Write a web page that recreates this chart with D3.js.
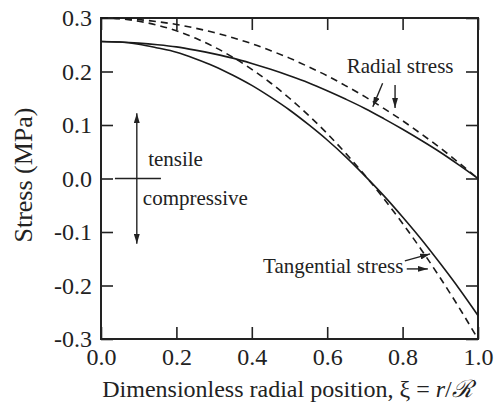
<!DOCTYPE html>
<html>
<head>
<meta charset="utf-8">
<script src="https://cdn.jsdelivr.net/npm/d3@7"></script>
<style>
  body { margin: 0; background: #fff; }
</style>
</head>
<body>
<div id="wrapper"></div>
<script>
// values, xi = r/R
const xi = [0, 0.05, 0.1, 0.15, 0.2, 0.25, 0.3, 0.35, 0.4, 0.45, 0.5,
    0.55, 0.6, 0.65, 0.7, 0.75, 0.8, 0.85, 0.9, 0.95, 1.0]
const radialSolid = [0.256, 0.255, 0.253, 0.250, 0.246, 0.240, 0.233, 0.225, 0.215, 0.204, 0.192,
    0.179, 0.164, 0.148, 0.131, 0.112, 0.092, 0.071, 0.049, 0.025, 0.000]
const radialDashed = [0.300, 0.299, 0.297, 0.293, 0.288, 0.281, 0.273, 0.263, 0.252, 0.239, 0.225,
    0.209, 0.192, 0.173, 0.153, 0.131, 0.108, 0.083, 0.057, 0.029, 0.000]
const tangSolid = [0.256, 0.255, 0.251, 0.244, 0.236, 0.224, 0.210, 0.193, 0.174, 0.152, 0.128,
    0.101, 0.072, 0.040, 0.005, -0.032, -0.072, -0.114, -0.159, -0.206, -0.256]
const tangDashed = [0.300, 0.2985, 0.294, 0.2865, 0.276, 0.2625, 0.246, 0.2265, 0.204, 0.1785, 0.150,
    0.1185, 0.084, 0.0465, 0.006, -0.0375, -0.084, -0.1335, -0.186, -0.2415, -0.300]
const xTicks = [0, 0.2, 0.4, 0.6, 0.8, 1.0]
const yTicks = [-0.3, -0.2, -0.1, 0, 0.1, 0.2, 0.3]

const serif = "'Liberation Serif', 'DejaVu Serif', serif"

let dimensions = {
    width: 496,
    height: 402,
    margin: { top: 18, right: 18, bottom: 63, left: 101 },
}
dimensions.boundedWidth = dimensions.width - dimensions.margin.left - dimensions.margin.right
dimensions.boundedHeight = dimensions.height - dimensions.margin.top - dimensions.margin.bottom

const svg = d3.select("#wrapper")
    .append("svg")
    .attr("width", dimensions.width)
    .attr("height", dimensions.height)
    .style("font-family", serif)

const defs = svg.append("defs")
defs.append("marker")
    .attr("id", "head")
    .attr("viewBox", "0 0 10 6")
    .attr("refX", 10)
    .attr("refY", 3)
    .attr("markerWidth", 10)
    .attr("markerHeight", 6)
    .attr("markerUnits", "userSpaceOnUse")
    .attr("orient", "auto")
    .append("path")
    .attr("d", "M0,0 L10,3 L0,6 Z")
    .attr("fill", "#222")

const bounds = svg.append("g")
    .attr("transform", `translate(${dimensions.margin.left},${dimensions.margin.top})`)

const xScale = d3.scaleLinear().domain([0, 1]).range([0, dimensions.boundedWidth])
const yScale = d3.scaleLinear().domain([-0.3, 0.3]).range([dimensions.boundedHeight, 0])
const fmt = d => d3.format(".1f")(d).replace("−", "-")

// axes with inward ticks on every side
const tickLen = 12
bounds.append("g")
    .attr("transform", `translate(0,${dimensions.boundedHeight})`)
    .call(d3.axisBottom(xScale).tickValues(xTicks).tickFormat(fmt).tickSizeInner(-tickLen).tickSizeOuter(0).tickPadding(8))
    .call(g => g.selectAll("text").attr("dy", "0.75em"))
bounds.append("g")
    .call(d3.axisTop(xScale).tickValues(xTicks).tickFormat("").tickSizeInner(-tickLen).tickSizeOuter(0))
bounds.append("g")
    .call(d3.axisLeft(yScale).tickValues(yTicks).tickFormat(fmt).tickSizeInner(-tickLen).tickSizeOuter(0).tickPadding(9))
bounds.append("g")
    .attr("transform", `translate(${dimensions.boundedWidth},0)`)
    .call(d3.axisRight(yScale).tickValues(yTicks).tickFormat("").tickSizeInner(-tickLen).tickSizeOuter(0))

bounds.selectAll(".domain").remove()
bounds.selectAll("g").attr("font-family", serif).attr("font-size", 24)
bounds.selectAll(".tick line").attr("stroke", "#222").attr("stroke-width", 1.6)
bounds.selectAll(".tick text").attr("fill", "#222").style("font-family", serif).style("font-size", "24px")

bounds.append("rect")
    .attr("width", dimensions.boundedWidth)
    .attr("height", dimensions.boundedHeight)
    .attr("fill", "none")
    .attr("stroke", "#222")
    .attr("stroke-width", 2)

// curves
const line = d3.line()
    .x((d, i) => xScale(xi[i]))
    .y(d => yScale(d))
    .curve(d3.curveMonotoneX)

const series = [
    { values: radialDashed, dash: "7,5" },
    { values: tangDashed, dash: "7,5" },
    { values: radialSolid, dash: null },
    { values: tangSolid, dash: null },
]
bounds.selectAll(".curve")
    .data(series)
    .enter()
    .append("path")
    .attr("class", "curve")
    .attr("fill", "none")
    .attr("stroke", "#1a1a1a")
    .attr("stroke-width", 1.6)
    .attr("stroke-dasharray", d => d.dash)
    .attr("d", d => line(d.values))

// annotations
const arrows = [
    [0.747, 0.178, 0.721, 0.134],
    [0.780, 0.175, 0.780, 0.132],
    [0.806, -0.154, 0.873, -0.141],
    [0.811, -0.169, 0.867, -0.169],
    [0.095, 0, 0.095, 0.122],
    [0.095, 0, 0.095, -0.122],
]
bounds.selectAll(".arrow")
    .data(arrows)
    .enter()
    .append("line")
    .attr("x1", d => xScale(d[0]))
    .attr("y1", d => yScale(d[1]))
    .attr("x2", d => xScale(d[2]))
    .attr("y2", d => yScale(d[3]))
    .attr("stroke", "#222")
    .attr("stroke-width", 1.4)
    .attr("marker-end", "url(#head)")

bounds.append("line")
    .attr("x1", xScale(0.037))
    .attr("x2", xScale(0.159))
    .attr("y1", yScale(0))
    .attr("y2", yScale(0))
    .attr("stroke", "#222")
    .attr("stroke-width", 1.4)

const notes = [
    { text: "Radial stress", x: 0.652, y: 0.197 },
    { text: "Tangential stress", x: 0.43, y: -0.177 },
    { text: "tensile", x: 0.125, y: 0.023 },
    { text: "compressive", x: 0.111, y: -0.05 },
]
bounds.selectAll(".note")
    .data(notes)
    .enter()
    .append("text")
    .attr("x", d => xScale(d.x))
    .attr("y", d => yScale(d.y))
    .attr("fill", "#222")
    .style("font-family", serif)
    .style("font-size", "21px")
    .text(d => d.text)

// axis titles
const xLabel = svg.append("text")
    .attr("x", dimensions.margin.left + dimensions.boundedWidth / 2 - 2)
    .attr("y", 397)
    .attr("text-anchor", "middle")
    .attr("fill", "#222")
    .style("font-family", serif)
    .style("font-size", "24px")
xLabel.append("tspan").text("Dimensionless radial position, ξ = ")
xLabel.append("tspan").attr("font-style", "italic").text("r")
xLabel.append("tspan").text("/")
xLabel.append("tspan").attr("font-style", "italic").text("ℛ")

svg.append("text")
    .attr("transform", `translate(32,175) rotate(-90)`)
    .attr("text-anchor", "middle")
    .attr("fill", "#222")
    .style("font-family", serif)
    .style("font-size", "26px")
    .text("Stress (MPa)")
</script>
</body>
</html>
